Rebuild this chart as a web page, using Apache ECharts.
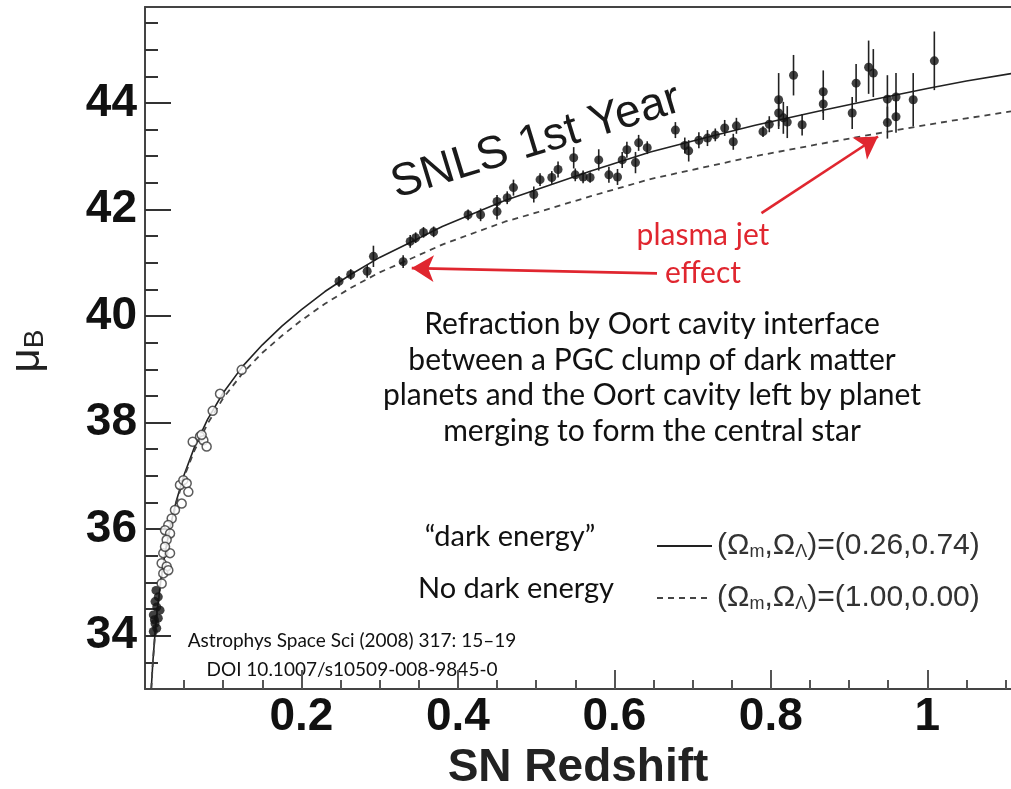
<!DOCTYPE html>
<html><head><meta charset="utf-8">
<script src="https://cdn.jsdelivr.net/npm/echarts@6/dist/echarts.min.js"></script>
<style>html,body{margin:0;padding:0;background:#fff}#c{width:1011px;height:789px}</style>
</head><body><div id="c"></div>
<script>
// ---------- data ----------
// SNLS 1st-year supernovae (filled, with error bars)
const snlsZ = [0.248,0.263,0.284,0.292,0.330,0.339,0.346,0.356,0.369,0.413,0.429,0.450,0.450,0.463,0.471,0.497,0.505,0.520,0.528,0.548,0.550,0.560,0.569,0.580,0.593,0.604,0.610,0.616,0.627,0.631,0.642,0.678,0.690,0.695,0.708,0.719,0.729,0.741,0.752,0.756,0.790,0.798,0.810,0.810,0.816,0.821,0.829,0.840,0.867,0.867,0.904,0.909,0.925,0.931,0.949,0.949,0.960,0.960,0.982,1.009];
const snlsMu = [40.65,40.78,40.84,41.12,41.02,41.40,41.47,41.57,41.58,41.90,41.90,41.96,42.15,42.22,42.41,42.28,42.56,42.60,42.75,42.97,42.65,42.61,42.60,42.93,42.65,42.61,42.93,43.12,42.88,43.25,43.16,43.49,43.20,43.10,43.30,43.34,43.40,43.53,43.27,43.57,43.46,43.60,44.06,43.81,43.72,43.64,44.52,43.59,44.21,43.98,43.81,44.37,44.67,44.56,44.07,43.63,44.11,43.74,44.06,44.79];
const snlsErr = [0.10,0.10,0.12,0.20,0.12,0.12,0.10,0.10,0.10,0.10,0.12,0.15,0.12,0.12,0.15,0.15,0.12,0.12,0.15,0.20,0.12,0.12,0.10,0.20,0.15,0.15,0.15,0.15,0.20,0.15,0.12,0.15,0.15,0.20,0.15,0.15,0.12,0.15,0.15,0.15,0.10,0.15,0.50,0.30,0.30,0.30,0.38,0.20,0.40,0.30,0.30,0.36,0.50,0.45,0.45,0.30,0.45,0.30,0.50,0.55];
// nearby supernovae, open circles
const openZ  = [0.1236,0.0959,0.0865,0.0610,0.0703,0.0746,0.0788,0.0724,0.0447,0.0490,0.0533,0.0554,0.0469,0.0383,0.0341,0.0298,0.0256,0.0320,0.0277,0.0234,0.0213,0.0277,0.0234,0.0213,0.0298,0.0320,0.0256];
const openMu = [38.99,38.54,38.22,37.64,37.74,37.67,37.55,37.77,36.83,36.92,36.86,36.70,36.48,36.36,36.20,36.08,35.98,35.92,35.80,35.55,35.36,35.30,35.17,34.98,35.23,35.55,35.67];
// nearby supernovae, filled
const nearZ  = [0.0170,0.0128,0.0150,0.0192,0.0106,0.0170,0.0128,0.0150,0.0106,0.0140,0.0120];
const nearMu = [34.73,34.64,34.54,34.48,34.39,34.33,34.23,34.14,34.08,34.85,34.30];
// model curves
const curveZ = [0.008,0.01,0.0128,0.016,0.02,0.025,0.032,0.04,0.05,0.063,0.08,0.1,0.125,0.15,0.175,0.2,0.23,0.262,0.3,0.339,0.38,0.413,0.46,0.5,0.57,0.646,0.72,0.78,0.859,0.93,1.0,1.05,1.107];
const lcdmMu = [33.00,33.50,34.04,34.52,35.01,35.50,36.04,36.53,37.02,37.53,38.06,38.56,39.06,39.46,39.81,40.12,40.46,40.77,41.10,41.38,41.68,41.88,42.17,42.37,42.72,43.08,43.36,43.58,43.84,44.06,44.27,44.41,44.55];
const edsMu  = [33.00,33.49,34.03,34.51,34.99,35.47,36.01,36.49,36.98,37.47,37.98,38.46,38.93,39.31,39.63,39.92,40.23,40.52,40.82,41.07,41.34,41.52,41.77,41.94,42.25,42.57,42.81,43.00,43.22,43.41,43.59,43.71,43.84];
// tick labels / tick positions
const xTickLabels = [0.2,0.4,0.6,0.8,1];
const xMinorTicks = [0.05,0.1,0.15,0.2,0.25,0.3,0.35,0.4,0.45,0.5,0.55,0.6,0.65,0.7,0.75,0.8,0.85,0.9,0.95,1.0,1.05,1.1];
const yTickLabels = [34,36,38,40,42,44];
const yMinorTicks = [33.5,34,34.5,35,35.5,36,36.5,37,37.5,38,38.5,39,39.5,40,40.5,41,41.5,42,42.5,43,43.5,44,44.5,45,45.5];
// annotation arrows (data coordinates): from -> to
const arrowFrom = [[0.6545,40.80],[0.788,41.93]];
const arrowTo   = [[0.341,40.90],[0.937,43.37]];
const seriesNames = ['(Ωm,ΩΛ)=(0.26,0.74)','(Ωm,ΩΛ)=(1.00,0.00)'];
const legendRich = {
  '(Ωm,ΩΛ)=(0.26,0.74)':'(Ω{s|m},Ω{s|Λ})=(0.26,0.74)',
  '(Ωm,ΩΛ)=(1.00,0.00)':'(Ω{s|m},Ω{s|Λ})=(1.00,0.00)'
};

// ---------- chart ----------
const chart = echarts.init(document.getElementById('c'), null, {renderer:'canvas'});
const AX = '#444', TK = '#555';
const XMIN = 0, XMAX = 1.107, YMIN = 33, YMAX = 45.8;
const axisFont = {fontFamily:'Liberation Sans', fontWeight:'bold', fontSize:46, color:'#111'};
const myriad = 'Lato';

const option = {
  backgroundColor:'#fff',
  animation:false,
  grid:{left:145, right:0, top:7, bottom:100, outerBoundsMode:'none', containLabel:false},
  xAxis:[
    {type:'value', min:XMIN, max:XMAX, position:'bottom',
     axisLine:{show:true, onZero:false, lineStyle:{color:AX, width:2}},
     axisTick:{show:true, inside:true, length:19, customValues:xTickLabels, lineStyle:{color:TK, width:2}},
     axisLabel:Object.assign({show:true, customValues:xTickLabels, margin:5, formatter:v=>String(v)}, axisFont),
     splitLine:{show:false},
     name:'SN Redshift', nameLocation:'middle', nameGap:55,
     nameTextStyle:{fontFamily:'Liberation Sans', fontWeight:'bold', fontSize:46, color:'#222'}},
    {type:'value', min:XMIN, max:XMAX, position:'bottom',
     axisLine:{show:false, onZero:false},
     axisTick:{show:true, inside:true, length:9, customValues:xMinorTicks, lineStyle:{color:TK, width:2}},
     axisLabel:{show:false}, splitLine:{show:false}},
    {type:'value', min:XMIN, max:XMAX, position:'top',
     axisLine:{show:true, onZero:false, lineStyle:{color:AX, width:2}},
     axisTick:{show:false}, axisLabel:{show:false}, splitLine:{show:false}}
  ],
  yAxis:[
    {type:'value', min:YMIN, max:YMAX, position:'left',
     axisLine:{show:true, onZero:false, lineStyle:{color:AX, width:2}},
     axisTick:{show:true, inside:true, length:26, customValues:yTickLabels, lineStyle:{color:'#333', width:2}},
     axisLabel:Object.assign({show:true, customValues:yTickLabels, margin:8}, axisFont),
     splitLine:{show:false}},
    {type:'value', min:YMIN, max:YMAX, position:'left',
     axisLine:{show:false, onZero:false},
     axisTick:{show:true, inside:true, length:13, customValues:yMinorTicks, lineStyle:{color:'#333', width:2}},
     axisLabel:{show:false}, splitLine:{show:false}}
  ],
  legend:{
    show:true, orient:'vertical', left:651, top:526, itemWidth:55, itemHeight:14, itemGap:22,
    data:seriesNames, selectedMode:false,
    itemStyle:{opacity:0},
    formatter:n=>legendRich[n],
    textStyle:{fontFamily:'Liberation Sans', fontSize:30, color:'#333', lineHeight:30,
      rich:{s:{fontFamily:'Liberation Sans', fontSize:18, color:'#333', lineHeight:14, verticalAlign:'bottom'}}}
  },
  series:[
    {name:seriesNames[0], type:'line', xAxisIndex:0, yAxisIndex:0, showSymbol:false, symbol:'none',
     smooth:false, data:curveZ.map((z,i)=>[z,lcdmMu[i]]),
     lineStyle:{color:'#222', width:1.6, type:'solid', join:'round'}, itemStyle:{color:'#555'}, z:2, silent:true,
     markLine:{silent:true, symbol:['none','arrow'], symbolSize:[20,22], label:{show:false},
       lineStyle:{color:'#e0262f', width:2.6, type:'solid'}, itemStyle:{color:'#e0262f'},
       data:arrowFrom.map((f,i)=>[{coord:f},{coord:arrowTo[i]}])}},
    {name:seriesNames[1], type:'line', xAxisIndex:0, yAxisIndex:0, showSymbol:false, symbol:'none',
     smooth:false, data:curveZ.map((z,i)=>[z,edsMu[i]]),
     lineStyle:{color:'#444', width:1.8, type:[6,5], join:'round'}, itemStyle:{color:'#555'}, z:2, silent:true},
    {name:'errors', type:'custom', xAxisIndex:0, yAxisIndex:0, z:3, silent:true,
     data:snlsZ.map((z,i)=>[z,snlsMu[i],snlsErr[i]]), encode:{x:0,y:1},
     renderItem:(params,api)=>{
       const x=api.value(0), y=api.value(1), e=api.value(2);
       const a=api.coord([x,y-e]), b=api.coord([x,y+e]);
       return {type:'line', shape:{x1:a[0],y1:a[1],x2:b[0],y2:b[1]}, style:{stroke:'#222', lineWidth:1.6}};
     }},
    {name:'SNLS', type:'scatter', xAxisIndex:0, yAxisIndex:0, z:4, silent:true,
     symbol:'circle', symbolSize:9, itemStyle:{color:'#111'},
     data:snlsZ.map((z,i)=>[z,snlsMu[i]])},
    {name:'nearbyFilled', type:'scatter', xAxisIndex:0, yAxisIndex:0, z:4, silent:true,
     symbol:'circle', symbolSize:9, itemStyle:{color:'#111'},
     data:nearZ.map((z,i)=>[z,nearMu[i]])},
    {name:'nearbyOpen', type:'scatter', xAxisIndex:0, yAxisIndex:0, z:4, silent:true,
     symbol:'circle', symbolSize:9, itemStyle:{color:'#fff', borderColor:'#333', borderWidth:1.5},
     data:openZ.map((z,i)=>[z,openMu[i]])}
  ],
  graphic:[
    {type:'text', x:27, y:351, rotation:Math.PI/2, silent:true,
     style:{text:'{m|μ}{b|B}', align:'center', verticalAlign:'middle',
       rich:{m:{fontFamily:'Liberation Sans', fontSize:42, fill:'#222', lineHeight:44},
             b:{fontFamily:'Liberation Sans', fontSize:28, fill:'#222', lineHeight:26, verticalAlign:'bottom'}}}},
    {type:'text', x:536, y:142, rotation:17*Math.PI/180, silent:true,
     style:{text:'SNLS 1st Year', fontFamily:'Liberation Sans', fontSize:46, fill:'#1a1a1a', align:'center', verticalAlign:'middle'}},
    {type:'text', x:703, y:254, silent:true,
     style:{text:'plasma jet\neffect', fontFamily:myriad, fontSize:30, lineHeight:38, fill:'#e0262f', align:'center', verticalAlign:'middle'}},
    {type:'text', x:652, y:378, silent:true,
     style:{text:'Refraction by Oort cavity interface\nbetween a PGC clump of dark matter\nplanets and the Oort cavity left by planet\nmerging to form the central star',
       fontFamily:myriad, fontSize:30, lineHeight:35.5, fill:'#111', align:'center', verticalAlign:'middle'}},
    {type:'text', x:510, y:537, silent:true,
     style:{text:'“dark energy”', fontFamily:myriad, fontSize:29, fill:'#111', align:'center', verticalAlign:'middle'}},
    {type:'text', x:516, y:589, silent:true,
     style:{text:'No dark energy', fontFamily:myriad, fontSize:29, fill:'#111', align:'center', verticalAlign:'middle'}},
    {type:'text', x:352, y:655, silent:true,
     style:{text:'Astrophys Space Sci (2008) 317: 15–19\nDOI 10.1007/s10509-008-9845-0', fontFamily:myriad, fontSize:19, lineHeight:29,
       fill:'#111', align:'center', verticalAlign:'middle'}}
  ]
};
chart.setOption(option);
</script>
</body></html>
